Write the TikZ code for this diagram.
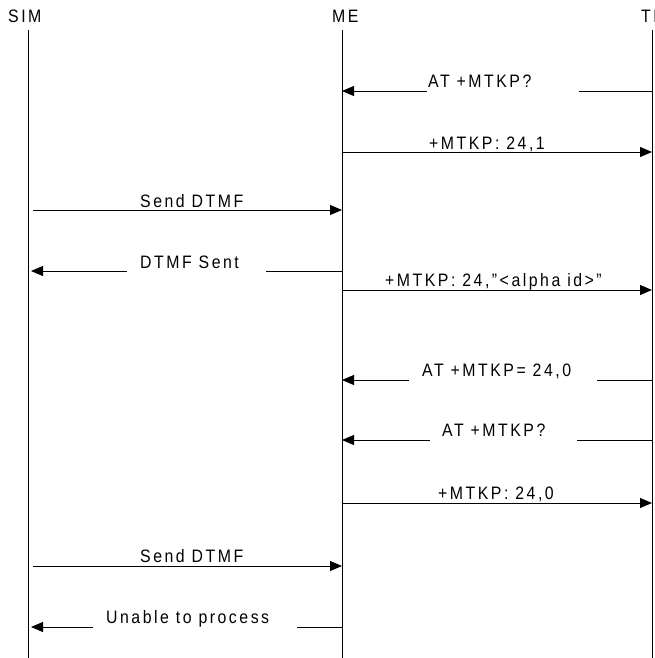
\documentclass[tikz,border=0pt]{standalone}
\usepackage{fontspec}
\setmainfont{Liberation Sans}[FakeStretch=0.88, LetterSpace=14]
\usetikzlibrary{arrows.meta}
\begin{document}
\begin{tikzpicture}[x=1pt, y=-1pt, font=\fontsize{18pt}{20pt}\selectfont,
	msg/.style={line width=0.8pt, -{Triangle[length=12pt, width=10pt]}},
	txt/.style={anchor=base west, inner sep=0pt},
	gap/.style={fill=white, inner sep=0pt, minimum height=7pt, anchor=west}]
	\useasboundingbox (0,0) rectangle (655,658);
	% heads and lifelines
	\node[txt] (SIM) at (8,23) {SIM};
	\node[txt] (ME) at (332,23) {ME};
	\node[txt] (TE) at (641,23) {TE};
	\coordinate (sim) at (28,30);
	\coordinate (me) at (342,30);
	\coordinate (te) at (652,30);
	\coordinate (simEnd) at (28,658);
	\coordinate (meEnd) at (342,658);
	\coordinate (teEnd) at (652,658);
	\draw[line width=0.8pt] (sim) -- (simEnd);
	\draw[line width=0.8pt] (me) -- (meEnd);
	\draw[line width=0.8pt] (te) -- (teEnd);
	% messages
	\draw[msg] (te |- 0,91) -- (me |- 0,91);
	\node[gap, minimum width=152pt] (g1) at (427,91) {};
	\node[txt] (m1) at (428,88) {AT +MTKP?};
	\draw[msg] (me |- 0,152) -- (te |- 0,152);
	\node[txt] (m2) at (429,149) {+MTKP: 24,1};
	\draw[msg, shorten <=5pt] (sim |- 0,210) -- (me |- 0,210);
	\node[txt] (m3) at (140,207) {Send DTMF};
	\draw[msg, shorten >=3pt] (me |- 0,271) -- (sim |- 0,271);
	\node[gap, minimum width=139pt] (g4) at (127,271) {};
	\node[txt] (m4) at (140,268) {DTMF Sent};
	\draw[msg] (me |- 0,290) -- (te |- 0,290);
	\node[txt] (m5) at (385,286) {+MTKP: 24,"<alpha id>"};
	\draw[msg] (te |- 0,380) -- (me |- 0,380);
	\node[gap, minimum width=188pt] (g6) at (409,380) {};
	\node[txt] (m6) at (422,376) {AT +MTKP= 24,0};
	\draw[msg] (te |- 0,440) -- (me |- 0,440);
	\node[gap, minimum width=147pt] (g7) at (430,440) {};
	\node[txt] (m7) at (442,436) {AT +MTKP?};
	\draw[msg] (me |- 0,503) -- (te |- 0,503);
	\node[txt] (m8) at (438,499) {+MTKP: 24,0};
	\draw[msg, shorten <=5pt] (sim |- 0,566) -- (me |- 0,566);
	\node[txt] (m9) at (140,562) {Send DTMF};
	\draw[msg, shorten >=3pt] (me |- 0,627) -- (sim |- 0,627);
	\node[gap, minimum width=204pt] (g10) at (93,627) {};
	\node[txt] (m10) at (106,623) {Unable to process};
\end{tikzpicture}
\end{document}
